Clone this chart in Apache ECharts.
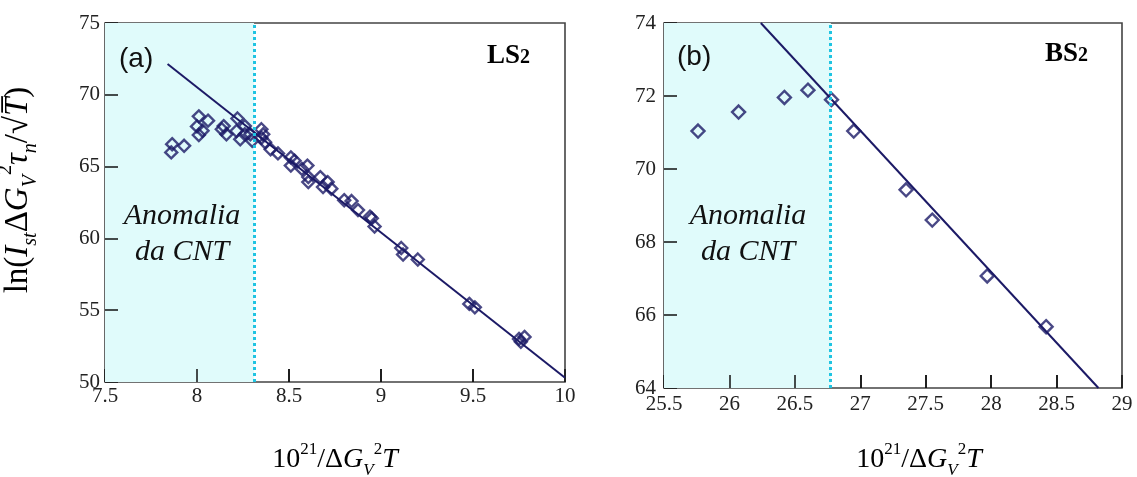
<!DOCTYPE html>
<html>
<head>
<meta charset="utf-8">
<script src="https://cdn.jsdelivr.net/npm/echarts@6/dist/echarts.min.js"></script>
<style>
html,body{margin:0;padding:0;background:#fff;}
#c{width:1137px;height:477px;}
</style>
</head>
<body>
<div id="c"></div>
<script>
// ---- data ----
const xTicksA = [7.5, 8, 8.5, 9, 9.5, 10];
const yTicksA = [50, 55, 60, 65, 70, 75];
const xTicksB = [25.5, 26, 26.5, 27, 27.5, 28, 28.5, 29];
const yTicksB = [64, 66, 68, 70, 72, 74];

const pointsA = [
  [7.865, 66.56], [7.86, 65.99], [7.93, 66.45],
  [8.01, 68.5], [8.0, 67.8], [8.01, 67.2], [8.06, 68.2], [8.03, 67.5],
  [8.145, 67.82], [8.16, 67.25], [8.135, 67.6],
  [8.22, 68.35], [8.235, 66.9], [8.215, 67.48], [8.26, 67.82], [8.29, 67.25], [8.30, 66.8], [8.26, 67.25],
  [8.35, 67.6], [8.36, 67.25], [8.35, 67.0], [8.37, 66.7],
  [8.40, 66.2], [8.44, 65.92],
  [8.51, 65.64], [8.53, 65.41], [8.51, 65.07],
  [8.57, 64.84], [8.60, 65.07], [8.605, 64.27], [8.605, 63.92],
  [8.67, 64.27], [8.71, 63.92], [8.73, 63.46], [8.685, 63.58],
  [8.80, 62.66], [8.84, 62.6], [8.875, 61.97],
  [8.94, 61.51], [8.95, 61.4], [8.965, 60.83],
  [9.11, 59.33], [9.12, 58.88], [9.20, 58.53],
  [9.48, 55.44], [9.51, 55.2],
  [9.75, 53.0], [9.78, 53.14], [9.76, 52.8]
];
const fitA = [[7.84, 72.15], [10.0, 50.3]];
const cntLimitA = 8.31;

const pointsB = [
  [25.76, 71.04], [26.07, 71.56], [26.42, 71.96], [26.60, 72.16],
  [26.78, 71.9], [26.95, 71.04], [27.35, 69.43], [27.55, 68.6],
  [27.97, 67.07], [28.42, 65.68]
];
const fitB = [[26.24, 74.0], [28.82, 64.0]];
const cntLimitB = 26.775;

const panelLabels = ['(a)', '(b)'];
const glassNames = ['LS', 'BS'];
const anomalyText = ['Anomalia', 'da CNT'];

// ---- styling ----
const NAVY = '#1c1a66';
const SHADE = '#e0fbfb';
const DOT = '#1fc4e2';
const FRAME = '#444';
const SERIF = '"Liberation Serif", "DejaVu Serif", serif';
const TICK_PX = 13;
const GRID_PX = [{ w: 460, h: 359 }, { w: 458, h: 365 }];

function xAxisCfg(gi, ticks) {
  return {
    type: 'value', gridIndex: gi,
    min: ticks[0], max: ticks[ticks.length - 1], interval: ticks[1] - ticks[0],
    axisLine: { show: false },
    axisTick: { show: true, inside: true, length: TICK_PX, lineStyle: { color: '#111', width: 1.5 } },
    axisLabel: { fontFamily: SERIF, fontSize: 21, color: '#222', margin: gi === 0 ? 4 : 6 },
    splitLine: { show: false }
  };
}
function yAxisCfg(gi, ticks) {
  return {
    type: 'value', gridIndex: gi,
    min: ticks[0], max: ticks[ticks.length - 1], interval: ticks[1] - ticks[0],
    axisLine: { show: false },
    axisTick: { show: true, inside: true, length: TICK_PX, lineStyle: { color: '#111', width: 1.5 } },
    axisLabel: { fontFamily: SERIF, fontSize: 21, color: '#222', margin: gi === 0 ? 5 : 8 },
    splitLine: { show: false }
  };
}

// inward tick marks built from the tick arrays (length converted from pixels to data units)
function tickSegments(gi, xt, yt) {
  const x0 = xt[0], x1 = xt[xt.length - 1], y0 = yt[0], y1 = yt[yt.length - 1];
  const dy = TICK_PX / GRID_PX[gi].h * (y1 - y0);
  const dx = TICK_PX / GRID_PX[gi].w * (x1 - x0);
  const segs = [];
  xt.slice(1, -1).forEach(v => segs.push([{ coord: [v, y0] }, { coord: [v, y0 + dy] }]));
  yt.slice(1, -1).forEach(v => segs.push([{ coord: [x0, v] }, { coord: [x0 + dx, v] }]));
  return segs;
}

function seriesFor(gi, pts, fit, limit, xt, yt) {
  return [
    {
      type: 'line', xAxisIndex: gi, yAxisIndex: gi, data: fit,
      symbol: 'none', clip: true, z: 3,
      lineStyle: { color: NAVY, width: 2 },
      markArea: {
        silent: true,
        itemStyle: { color: SHADE },
        data: [[{ xAxis: xt[0] }, { xAxis: limit }]]
      },
      markLine: {
        silent: true, symbol: 'none',
        label: { show: false },
        lineStyle: { color: DOT, type: [3, 3], width: 3 },
        data: [{ xAxis: limit }]
      }
    },
    {
      type: 'scatter', xAxisIndex: gi, yAxisIndex: gi, data: pts,
      symbol: 'diamond', symbolSize: gi === 0 ? 12 : 13, z: 4,
      itemStyle: { color: 'rgba(0,0,0,0)', borderColor: NAVY, borderWidth: 2.4 },
      markLine: {
        silent: true, symbol: 'none', animation: false,
        label: { show: false },
        lineStyle: { color: '#111', type: 'solid', width: 1.5 },
        data: tickSegments(gi, xt, yt)
      }
    }
  ];
}

function titleRich(fs) {
  const sfs = Math.round(fs * 0.62);
  const lh = Math.round(fs * 1.35);
  return {
    n: { fontFamily: SERIF, fontSize: fs, color: '#222', lineHeight: lh },
    i: { fontFamily: SERIF, fontStyle: 'italic', fontSize: fs, color: '#222', lineHeight: lh },
    sup: { fontFamily: SERIF, fontSize: sfs, color: '#222', verticalAlign: 'top', lineHeight: lh, padding: [0, 0, Math.round(fs * 0.45), 0] },
    sub: { fontFamily: SERIF, fontStyle: 'italic', fontSize: sfs, color: '#222', verticalAlign: 'bottom', lineHeight: lh, padding: [Math.round(fs * 0.4), 0, 0, 0] }
  };
}
const xTitle = '{n|10}{sup|21}{n|/Δ}{i|G}{sub|V}{sup|2}{i|T}';
const yTitle = '{n|ln(}{i|I}{sub|st}{n|Δ}{i|G}{sub|V}{sup|2}{i|τ}{sub|n}{n|/√}{i|T̅}{n|)}';

function overlayText(x, y, text, style) {
  return Object.assign({ type: 'text', left: x, top: y, silent: true, z: 50,
    style: Object.assign({ text: text, fill: '#111' }, style) });
}

const chart = echarts.init(document.getElementById('c'), null, { renderer: 'canvas' });
chart.setOption({
  animation: false,
  grid: [
    { left: 105, top: 23, width: GRID_PX[0].w, height: GRID_PX[0].h, show: true, borderColor: FRAME, borderWidth: 1.6 },
    { left: 664, top: 23, width: GRID_PX[1].w, height: GRID_PX[1].h, show: true, borderColor: FRAME, borderWidth: 1.6 }
  ],
  xAxis: [xAxisCfg(0, xTicksA), xAxisCfg(1, xTicksB)],
  yAxis: [yAxisCfg(0, yTicksA), yAxisCfg(1, yTicksB)],
  series: [].concat(
    seriesFor(0, pointsA, fitA, cntLimitA, xTicksA, yTicksA),
    seriesFor(1, pointsB, fitB, cntLimitB, xTicksB, yTicksB)
  ),
  graphic: [
    overlayText(119, 45, panelLabels[0], { font: '28px "Liberation Sans", Arial, sans-serif' }),
    overlayText(677, 43, panelLabels[1], { font: '28px "Liberation Sans", Arial, sans-serif' }),
    { type: 'text', left: 487, top: 43, silent: true, z: 50,
      style: { text: '{b|' + glassNames[0] + '}{s|2}', rich: {
        b: { fontFamily: SERIF, fontWeight: 'bold', fontSize: 27, color: '#111', verticalAlign: 'bottom', lineHeight: 28 },
        s: { fontFamily: SERIF, fontWeight: 'bold', fontSize: 20, color: '#111', verticalAlign: 'bottom', lineHeight: 28, padding: [0, 0, 2, 0] } } } },
    { type: 'text', left: 1045, top: 41, silent: true, z: 50,
      style: { text: '{b|' + glassNames[1] + '}{s|2}', rich: {
        b: { fontFamily: SERIF, fontWeight: 'bold', fontSize: 27, color: '#111', verticalAlign: 'bottom', lineHeight: 28 },
        s: { fontFamily: SERIF, fontWeight: 'bold', fontSize: 20, color: '#111', verticalAlign: 'bottom', lineHeight: 28, padding: [0, 0, 2, 0] } } } },
    { type: 'text', x: 182, y: 198, silent: true, z: 50,
      style: { text: anomalyText.join('\n'), font: 'italic 30px ' + SERIF, fill: '#111', align: 'center', lineHeight: 36 } },
    { type: 'text', x: 748, y: 198, silent: true, z: 50,
      style: { text: anomalyText.join('\n'), font: 'italic 30px ' + SERIF, fill: '#111', align: 'center', lineHeight: 36 } },
    { type: 'text', x: 335, y: 441, silent: true, z: 50,
      style: { text: xTitle, rich: titleRich(28), align: 'center' } },
    { type: 'text', x: 919, y: 441, silent: true, z: 50,
      style: { text: xTitle, rich: titleRich(28), align: 'center' } },
    { type: 'text', x: 18, y: 190, rotation: Math.PI / 2, silent: true, z: 50,
      style: { text: yTitle, rich: titleRich(33), align: 'center', verticalAlign: 'middle' } }
  ]
});
</script>
</body>
</html>
